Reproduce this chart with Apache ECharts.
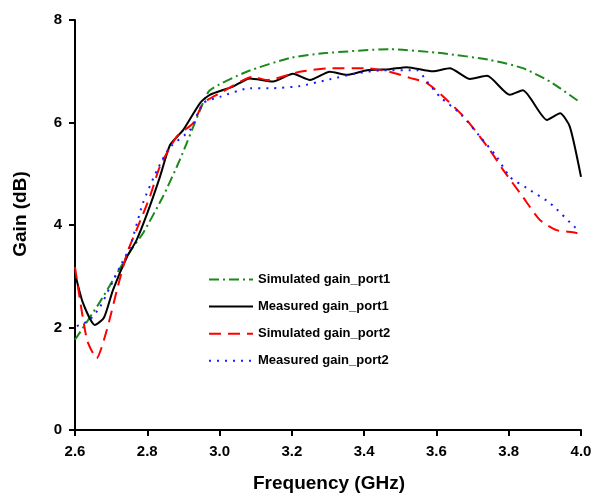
<!DOCTYPE html>
<html>
<head>
<meta charset="utf-8">
<script src="https://cdn.jsdelivr.net/npm/echarts@6/dist/echarts.min.js"></script>
<style>
html,body{margin:0;padding:0;background:#fff;}
#c{width:596px;height:495px;}
</style>
</head>
<body>
<div id="c"></div>
<script>
// Series names
var seriesNames = ['Simulated gain_port1', 'Measured gain_port1', 'Simulated gain_port2', 'Measured gain_port2'];
// Axis ticks
var xTicks = [2.6, 2.8, 3.0, 3.2, 3.4, 3.6, 3.8, 4.0];
var yTicks = [0, 2, 4, 6, 8];

// Simulated gain_port1
var simP1Freq = [2.60, 2.669, 2.752, 2.788, 2.843, 2.89, 2.946, 2.973, 3.075, 3.195, 3.286, 3.471, 3.618, 3.748, 3.839, 3.914, 4.0];
var simP1Gain = [1.76, 2.5, 3.48, 3.84, 4.55, 5.27, 6.24, 6.63, 6.99, 7.26, 7.35, 7.43, 7.35, 7.22, 7.06, 6.8, 6.38];

// Measured gain_port1
var measP1Freq = [2.60, 2.622, 2.655, 2.68, 2.705, 2.744, 2.77, 2.8, 2.835, 2.863, 2.899, 2.946, 2.973, 3.037, 3.084, 3.148, 3.203, 3.25, 3.305, 3.352, 3.408, 3.471, 3.518, 3.59, 3.637, 3.693, 3.74, 3.803, 3.839, 3.906, 3.942, 3.969, 4.0];
var measP1Gain = [3.06, 2.48, 2.05, 2.19, 2.73, 3.38, 3.7, 4.23, 4.94, 5.56, 5.85, 6.38, 6.54, 6.7, 6.86, 6.8, 6.95, 6.83, 6.99, 6.93, 7.02, 7.04, 7.08, 7.0, 7.06, 6.85, 6.91, 6.54, 6.63, 6.05, 6.18, 5.92, 4.94];

// Simulated gain_port2
var simP2Freq = [2.60, 2.633, 2.66, 2.688, 2.716, 2.744, 2.77, 2.807, 2.835, 2.882, 2.927, 2.955, 3.001, 3.092, 3.131, 3.222, 3.305, 3.408, 3.47, 3.527, 3.574, 3.629, 3.684, 3.748, 3.785, 3.839, 3.886, 3.932, 3.977, 3.99];
var simP2Gain = [3.18, 1.76, 1.4, 1.95, 2.73, 3.45, 3.9, 4.55, 5.14, 5.73, 5.99, 6.38, 6.57, 6.89, 6.83, 6.99, 7.06, 7.06, 6.99, 6.87, 6.77, 6.44, 6.05, 5.46, 5.07, 4.55, 4.1, 3.9, 3.86, 3.84];

// Measured gain_port2
var measP2Freq = [2.605, 2.614, 2.641, 2.669, 2.697, 2.724, 2.752, 2.788, 2.827, 2.863, 2.918, 2.955, 3.001, 3.084, 3.148, 3.222, 3.297, 3.38, 3.452, 3.546, 3.574, 3.61, 3.665, 3.72, 3.767, 3.803, 3.85, 3.914, 3.986, 4.0];
var measP2Gain = [2.03, 2.05, 2.15, 2.4, 2.79, 3.18, 3.57, 4.43, 5.07, 5.52, 5.85, 6.38, 6.5, 6.67, 6.67, 6.71, 6.83, 6.96, 7.02, 7.02, 6.8, 6.5, 6.18, 5.73, 5.33, 4.94, 4.72, 4.43, 3.94, 3.9];

function pairs(xs, ys) { return xs.map(function (x, i) { return [x, ys[i]]; }); }

var FONT = '"Liberation Sans", Arial, Helvetica, sans-serif';
var chart = echarts.init(document.getElementById('c'), null, {renderer: 'canvas'});

function mkSeries(name, xs, ys, color, type, z) {
  return {
    name: name, type: 'line', data: pairs(xs, ys), symbol: 'none', smooth: 0.2, z: z,
    lineStyle: {color: color, width: 2, type: type},
    itemStyle: {color: color}
  };
}

chart.setOption({
  backgroundColor: '#ffffff',
  animation: false,
  grid: {left: 75, right: 15, top: 20, bottom: 65, containLabel: false},
  xAxis: {
    type: 'value', min: 2.6, max: 4.0, interval: 0.2,
    axisLine: {show: true, onZero: false, lineStyle: {color: '#000', width: 2}},
    axisTick: {show: true, inside: false, length: 6, lineStyle: {color: '#000', width: 2}},
    splitLine: {show: false},
    axisLabel: {color: '#000', fontSize: 15, fontWeight: 'bold', fontFamily: FONT, margin: 14,
      formatter: function (v) { return v.toFixed(1); }}
  },
  yAxis: {
    type: 'value', min: 0, max: 8, interval: 2,
    axisLine: {show: true, lineStyle: {color: '#000', width: 2}},
    axisTick: {show: true, inside: false, length: 6, lineStyle: {color: '#000', width: 2}},
    splitLine: {show: false},
    axisLabel: {color: '#000', fontSize: 15, fontWeight: 'bold', fontFamily: FONT, margin: 13}
  },
  legend: {
    orient: 'vertical', left: 208, top: 273, padding: 0, itemWidth: 44, itemHeight: 14, itemGap: 14.1,
    data: seriesNames,
    itemStyle: {opacity: 0},
    textStyle: {color: '#000', fontSize: 13, fontWeight: 'bold', fontFamily: FONT}
  },
  graphic: [
    {type: 'text', x: 329, y: 484, style: {text: 'Frequency (GHz)', fill: '#000',
      font: 'bold 19px ' + FONT, align: 'center', verticalAlign: 'middle'}},
    {type: 'text', x: 21, y: 214, rotation: Math.PI / 2, style: {text: 'Gain (dB)', fill: '#000',
      font: 'bold 19px ' + FONT, align: 'center', verticalAlign: 'middle'}}
  ],
  series: [
    mkSeries(seriesNames[0], simP1Freq, simP1Gain, '#1a8a1a', [10, 4, 2, 4], 2),
    mkSeries(seriesNames[1], measP1Freq, measP1Gain, '#000000', 'solid', 3),
    mkSeries(seriesNames[2], simP2Freq, simP2Gain, '#ff0000', [12, 7], 4),
    mkSeries(seriesNames[3], measP2Freq, measP2Gain, '#1a1aff', [2, 6], 5)
  ]
});
</script>
</body>
</html>
